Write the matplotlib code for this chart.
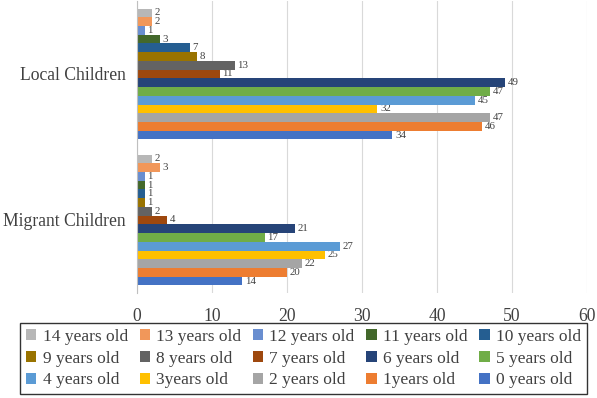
import matplotlib
matplotlib.use("Agg")
import matplotlib.pyplot as plt
import numpy as np

plt.rcParams['font.family'] = ['Liberation Serif', 'DejaVu Serif']

categories = ["Migrant Children", "Local Children"]
series_labels = ["0 years old", "1years old", "2 years old", "3years old", "4 years old",
                 "5 years old", "6 years old", "7 years old", "8 years old", "9 years old",
                 "10 years old", "11 years old", "12 years old", "13 years old", "14 years old"]
migrant = [14, 20, 22, 25, 27, 17, 21, 4, 2, 1, 1, 1, 1, 3, 2]
local = [34, 46, 47, 32, 45, 47, 49, 11, 13, 8, 7, 3, 1, 2, 2]
colors = ["#4472C4", "#ED7D31", "#A5A5A5", "#FFC000", "#5B9BD5", "#70AD47", "#264478",
          "#9E480E", "#636363", "#997300", "#255E91", "#43682B", "#698ED0", "#F1975A", "#B7B7B7"]

W, H = 597, 398
fig = plt.figure(figsize=(W/100, H/100), dpi=100)
ax = fig.add_axes([137/W, 1-293/H, (587-137)/W, (293-1)/H])

n = len(series_labels)
group_w = 0.897
bw = group_w / n
y = np.arange(len(categories))
handles = []
for i in range(n):
    vals = [migrant[i], local[i]]
    pos = y - group_w/2 + bw*(i+0.5)
    b = ax.barh(pos, vals, height=bw, color=colors[i], label=series_labels[i], zorder=3)
    handles.append(b)
    for p, v in zip(pos, vals):
        ax.text(v + 0.4, p, str(v), va='center', ha='left', fontsize=7.8, color='#404040')

ax.set_xlim(0, 60)
ax.set_ylim(-0.5, 1.5)
ax.set_xticks(range(0, 61, 10))
ax.set_yticks(y)
ax.set_yticklabels(categories, fontsize=12.7, color='#404040')
ax.tick_params(axis='x', labelsize=12.7, colors='#404040', length=0, pad=11)
ax.tick_params(axis='y', length=0, pad=8)
ax.grid(axis='x', color='#D9D9D9', linewidth=0.8, zorder=0)
for s in ['top', 'right', 'bottom']:
    ax.spines[s].set_visible(False)
ax.spines['left'].set_color('#BFBFBF')
ax.spines['left'].set_zorder(4)

# legend: row-major order 14..0, 5 columns
order_rows = [[14, 13, 12, 11, 10], [9, 8, 7, 6, 5], [4, 3, 2, 1, 0]]
ordered = []
for c in range(5):
    for r in range(3):
        ordered.append(order_rows[r][c])
leg = fig.legend([handles[k] for k in ordered], [series_labels[k] for k in ordered],
                 ncol=5, loc='upper left', mode='expand',
                 bbox_to_anchor=(20/W, 1-396/H, 567/W, 73/H), borderaxespad=0,
                 fontsize=12.5, frameon=True, fancybox=False, edgecolor='black',
                 handlelength=0.6, handleheight=0.6, handletextpad=0.35,
                 columnspacing=0.3, labelspacing=0.32, borderpad=0.35)
leg.get_frame().set_linewidth(1.0)
for t in leg.get_texts():
    t.set_color('#404040')

fig.savefig("out.png", dpi=100)
